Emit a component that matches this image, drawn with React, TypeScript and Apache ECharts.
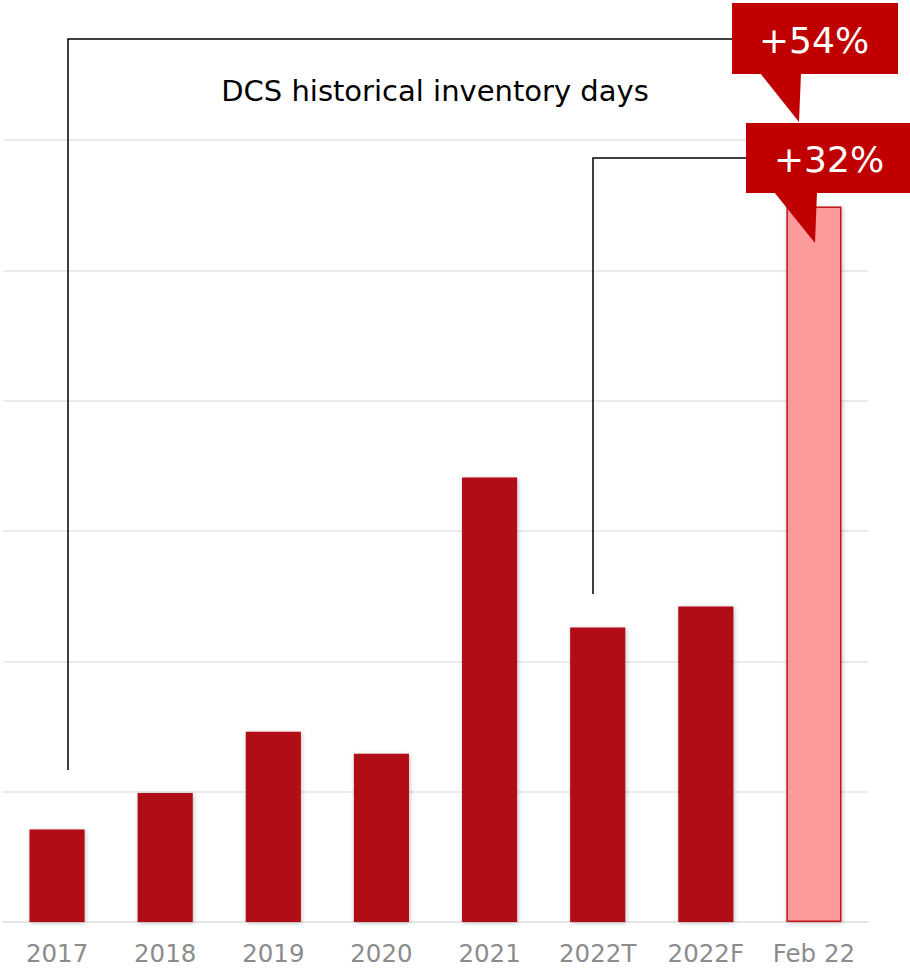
import React, { useEffect, useRef } from "react";
import * as echarts from "echarts";

const categories = ["2017", "2018", "2019", "2020", "2021", "2022T", "2022F", "Feb 22"];
const inventoryDays = [7.1, 9.9, 14.6, 12.9, 34.1, 22.6, 24.2, 54.9];
const highlightIndex = 7;
const titleText = "DCS historical inventory days";
const callout1 = "+54%";
const callout2 = "+32%";

export default function App() {
  const ref = useRef<HTMLDivElement>(null);
  useEffect(() => {
    const chart = echarts.init(ref.current!, null, { renderer: "svg" });
    const font = "'DejaVu Sans', Verdana, sans-serif";
    const red = "#c00000";
    chart.setOption({
      animation: false,
      backgroundColor: "#ffffff",
      grid: { left: 3, right: 42, top: 140, bottom: 47, containLabel: false },
      xAxis: {
        type: "category",
        data: categories,
        axisLine: { show: true, lineStyle: { color: "#e6e6e6", width: 2 } },
        axisTick: { show: false },
        axisLabel: { color: "#8c8c8c", fontSize: 24.5, fontFamily: font, margin: 19 },
      },
      yAxis: {
        type: "value",
        min: 0,
        max: 60,
        interval: 10,
        axisLabel: { show: false },
        axisLine: { show: false },
        axisTick: { show: false },
        splitLine: { lineStyle: { color: "#ebebeb", width: 2 } },
      },
      series: [
        {
          type: "bar",
          barWidth: "51%",
          data: inventoryDays.map((v, i) =>
            i === highlightIndex
              ? { value: v, itemStyle: { color: "#fc9a9c", borderColor: "#c0141c", borderWidth: 1.5 } }
              : v
          ),
          itemStyle: {
            color: "#b00c13",
            shadowBlur: 4,
            shadowColor: "rgba(0,0,0,0.25)",
            shadowOffsetX: 1,
            shadowOffsetY: 1,
          },
        },
      ],
      graphic: [
        {
          type: "text",
          z: 100,
          x: 435,
          y: 91,
          style: {
            text: titleText,
            font: `29px ${font}`,
            fill: "#000000",
            textAlign: "center",
            textVerticalAlign: "middle",
          },
        },
        {
          type: "polyline",
          z: 100,
          shape: { points: [[68, 770], [68, 39], [732, 39]] },
          style: { stroke: "#000", lineWidth: 1.5, fill: "none" },
        },
        {
          type: "polyline",
          z: 100,
          shape: { points: [[593, 594], [593, 158], [746, 158]] },
          style: { stroke: "#000", lineWidth: 1.5, fill: "none" },
        },
        {
          type: "rect",
          z: 100,
          shape: { x: 732, y: 3, width: 166, height: 71 },
          style: { fill: red },
        },
        {
          type: "polygon",
          z: 100,
          shape: { points: [[760, 73], [801, 73], [799, 122]] },
          style: { fill: red },
        },
        {
          type: "text",
          z: 101,
          x: 814,
          y: 40,
          style: {
            text: callout1,
            font: `36px ${font}`,
            fill: "#ffffff",
            textAlign: "center",
            textVerticalAlign: "middle",
          },
        },
        {
          type: "rect",
          z: 100,
          shape: { x: 746, y: 123, width: 164, height: 70 },
          style: { fill: red },
        },
        {
          type: "polygon",
          z: 100,
          shape: { points: [[774, 192], [817, 192], [815, 243]] },
          style: { fill: red },
        },
        {
          type: "text",
          z: 101,
          x: 829,
          y: 159,
          style: {
            text: callout2,
            font: `36px ${font}`,
            fill: "#ffffff",
            textAlign: "center",
            textVerticalAlign: "middle",
          },
        },
      ],
    });
    return () => chart.dispose();
  }, []);
  return (
    <div
      ref={ref}
      style={{ position: "absolute", left: 0, top: 0, width: 910, height: 969 }}
    />
  );
}
